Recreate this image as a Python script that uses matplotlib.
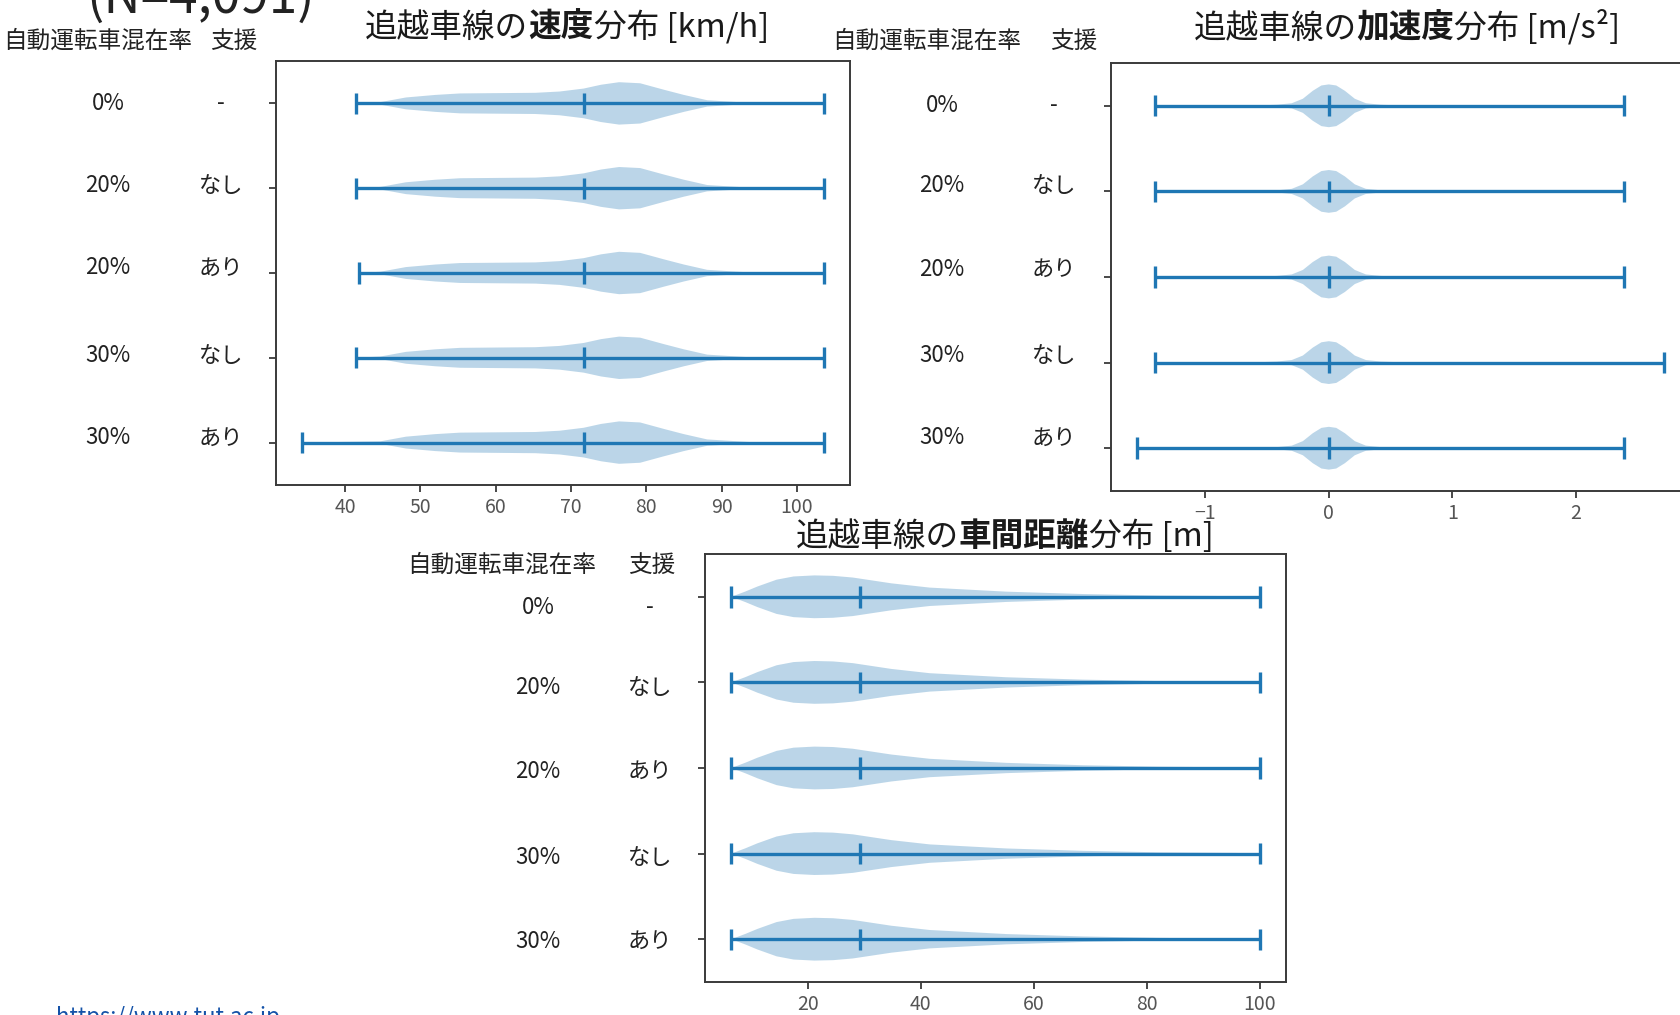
"""
Violin plots of overtaking-lane speed / acceleration / headway by AV share and support.
"""
import numpy as np
import matplotlib.pyplot as plt
from matplotlib.offsetbox import TextArea, HPacker, AnnotationBbox

plt.rcParams['font.family'] = ['Noto Sans CJK JP', 'DejaVu Sans']
plt.rcParams['axes.unicode_minus'] = True

W, H = 1680, 1015
BLUE = '#1f77b4'
SPINE = '#3a3a3a'
TXT = '#222222'

# row labels (top -> bottom)
RATES = ['0%', '20%', '20%', '30%', '30%']
SUPPORT = ['-', 'なし', 'あり', 'なし', 'あり']

# speed [km/h]
SPEED_MIN = [41.4, 41.4, 41.9, 41.4, 34.3]
SPEED_MAX = [103.6, 103.6, 103.6, 103.6, 103.6]
SPEED_MEAN = [71.7, 71.7, 71.7, 71.7, 71.7]
SPEED_GRID = [44.7, 48.1, 52.0, 55.3, 65.3, 68.5, 71.7, 74.0, 76.4, 79.2, 82.4, 85.0, 88.1, 94.0]
SPEED_DENS = [0.06, 0.28, 0.40, 0.47, 0.50, 0.56, 0.70, 0.88, 1.00, 0.95, 0.64, 0.40, 0.15, 0.02]

# acceleration [m/s2]
ACC_MIN = [-1.41, -1.41, -1.41, -1.41, -1.55]
ACC_MAX = [2.39, 2.39, 2.39, 2.71, 2.39]
ACC_MEAN = [0.0, 0.0, 0.0, 0.0, 0.0]
ACC_GRID = [-0.9, -0.55, -0.42, -0.3, -0.21, -0.13, -0.06, 0.0,
            0.06, 0.13, 0.21, 0.3, 0.42, 0.55, 0.9]
ACC_DENS = [0.005, 0.02, 0.05, 0.12, 0.33, 0.70, 0.95, 1.0,
            0.95, 0.70, 0.33, 0.12, 0.05, 0.02, 0.005]

# headway [m]
GAP_MIN = [6.5, 6.5, 6.5, 6.5, 6.5]
GAP_MAX = [100.0, 100.0, 100.0, 100.0, 100.0]
GAP_MEAN = [29.3, 29.3, 29.3, 29.3, 29.3]
GAP_GRID = [9.0, 11.1, 14.5, 17.5, 21.2, 24.5, 28.0, 34.8, 41.6, 55.2, 68.7, 82.3, 95.9]
GAP_DENS = [0.25, 0.48, 0.80, 0.95, 1.00, 0.98, 0.90, 0.63, 0.43, 0.24, 0.13, 0.06, 0.03]

fig = plt.figure(figsize=(W / 100, H / 100), dpi=100)


def px_box(left, top, right, bottom):
    return [left / W, 1 - bottom / H, (right - left) / W, (bottom - top) / H]


def violins(ax, grid, dens, mins, maxs, means, xticks):
    stats = []
    for lo, hi, mu in zip(mins, maxs, means):
        stats.append(dict(coords=np.array([lo] + grid + [hi]),
                          vals=np.array([0.0] + dens + [0.0]),
                          mean=mu, median=mu, min=lo, max=hi))
    parts = ax.violin(stats, positions=range(1, 6), orientation='horizontal',
                      widths=0.5, showmeans=True, showextrema=True)
    for body in parts['bodies']:
        body.set_facecolor(BLUE)
        body.set_edgecolor('none')
        body.set_alpha(0.3)
    for key in ('cbars', 'cmins', 'cmaxes', 'cmeans'):
        parts[key].set_color(BLUE)
        parts[key].set_linewidth(2.4)
    ax.set_ylim(5.5, 0.5)
    ax.set_yticks(range(1, 6))
    ax.set_yticklabels([])
    ax.set_xticks(xticks)
    ax.tick_params(axis='x', labelsize=14, labelcolor='#555555',
                   color=SPINE, length=5, width=1.3)
    ax.tick_params(axis='y', color=SPINE, length=5, width=1.3)
    for sp in ax.spines.values():
        sp.set_color(SPINE)
        sp.set_linewidth(1.4)


def label(x, y, s, ha='center', size=16, color=TXT):
    fig.text(x / W, 1 - y / H, s, ha=ha, va='center', fontsize=size, color=color)


def row_labels(x_rate, x_sup, ys, hx_rate, hx_sup, hy):
    label(hx_rate, hy, '自動運転車混在率', ha='left', size=17)
    label(hx_sup, hy, '支援', ha='left', size=17)
    for y, r, s in zip(ys, RATES, SUPPORT):
        label(x_rate, y, r)
        label(x_sup, y, s)


def title(x, y, parts):
    areas = [TextArea(s, textprops=dict(fontsize=23.5, fontweight=w, color='#1a1a1a'))
             for s, w in parts]
    box = HPacker(children=areas, align='baseline', pad=0, sep=0)
    fig.add_artist(AnnotationBbox(box, (x / W, 1 - y / H), xycoords='figure fraction',
                                  frameon=False, box_alignment=(0.5, 0.5)))


# ── speed ─────────────────────────────────────────────────────────────────────
ax1 = fig.add_axes(px_box(276, 61, 850, 485))
violins(ax1, SPEED_GRID, SPEED_DENS, SPEED_MIN, SPEED_MAX, SPEED_MEAN, range(40, 101, 10))
row_labels(108, 221, [104, 185, 268, 355, 438], 3, 210, 41)
title(567, 27, [('追越車線の', 'normal'), ('速度', 'bold'), ('分布 [km/h]', 'normal')])

# ── acceleration (axes runs off the right edge, as in the slide) ─────────────
ax2 = fig.add_axes(px_box(1111, 63, 1690, 491))
violins(ax2, ACC_GRID, ACC_DENS, ACC_MIN, ACC_MAX, ACC_MEAN, [-1, 0, 1, 2])
row_labels(942, 1054, [105, 186, 269, 355, 438], 832, 1050, 41)
title(1407, 27, [('追越車線の', 'normal'), ('加速度', 'bold'), ('分布 [m/s²]', 'normal')])

# ── headway ───────────────────────────────────────────────────────────────────
ax3 = fig.add_axes(px_box(705, 554, 1286, 982))
violins(ax3, GAP_GRID, GAP_DENS, GAP_MIN, GAP_MAX, GAP_MEAN, range(20, 101, 20))
row_labels(538, 650, [607, 688, 771, 857, 941], 407, 628, 565)
title(1005, 536, [('追越車線の', 'normal'), ('車間距離', 'bold'), ('分布 [m]', 'normal')])

# slide leftovers, clipped by the frame
fig.text(86 / W, 1 - 13 / H, '(N=4,091)', ha='left', va='baseline',
         fontsize=37, color=TXT)
fig.text(56 / W, 1 - 1006 / H, 'https://www.tut.ac.jp', ha='left', va='top',
         fontsize=16, color='#1452a8')

fig.savefig('out.png', dpi=100)
